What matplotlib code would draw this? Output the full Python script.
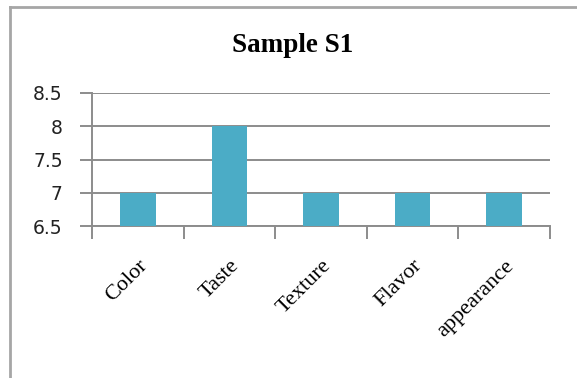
import matplotlib.pyplot as plt
import numpy as np

categories = ["Color", "Taste", "Texture", "Flavor", "appearance"]
values = [7, 8, 7, 7, 7]
yticks = [6.5, 7, 7.5, 8, 8.5]
ytick_labels = ["6.5", "7", "7.5", "8", "8.5"]

bar_color = "#4BACC6"
grid_color = "#8C8C8C"

fig = plt.figure(figsize=(5.77, 3.78), dpi=100)
ax = fig.add_axes([92 / 577, 1 - 226 / 378, 458 / 577, 133 / 378])

x = np.arange(len(categories))
ax.bar(x, values, width=0.39, color=bar_color, zorder=3, bottom=0)

ax.set_xlim(-0.5, len(categories) - 0.5)
ax.set_ylim(6.5, 8.5)
ax.set_yticks(yticks)
ax.set_yticklabels(ytick_labels, fontsize=13.5, family="DejaVu Sans", color="#222222")
ax.yaxis.grid(True, color=grid_color, linewidth=1.4, zorder=0)

# category boundary ticks, labels at centres
ax.set_xticks(np.arange(len(categories) + 1) - 0.5)
ax.set_xticklabels([])
ax.set_xticks(x, minor=True)
ax.set_xticklabels(categories, minor=True, rotation=45, ha="right",
                   va="top", rotation_mode="anchor",
                   family="Liberation Serif", fontsize=16)
ax.tick_params(axis="x", which="minor", length=0, pad=22)
ax.tick_params(axis="x", which="major", length=9, width=1.4, color=grid_color)
ax.tick_params(axis="y", length=9, width=1.4, color=grid_color, pad=12)

for side in ["top", "right"]:
    ax.spines[side].set_visible(False)
ax.spines["left"].set_color(grid_color)
ax.spines["left"].set_linewidth(1.4)
ax.spines["bottom"].set_color(grid_color)
ax.spines["bottom"].set_linewidth(1.4)

fig.text(293 / 577, 1 - 52 / 378, "Sample S1", ha="center", va="baseline",
         family="Liberation Serif", fontweight="bold", fontsize=19.5)

# outer chart border (top and left only visible)
fig.add_artist(plt.Line2D([10 / 577, 1], [1 - 7 / 378, 1 - 7 / 378],
                          color="#A6A6A6", linewidth=2, transform=fig.transFigure))
fig.add_artist(plt.Line2D([10 / 577, 10 / 577], [0, 1 - 7 / 378],
                          color="#A6A6A6", linewidth=2, transform=fig.transFigure))

fig.savefig("out.png", dpi=100)
